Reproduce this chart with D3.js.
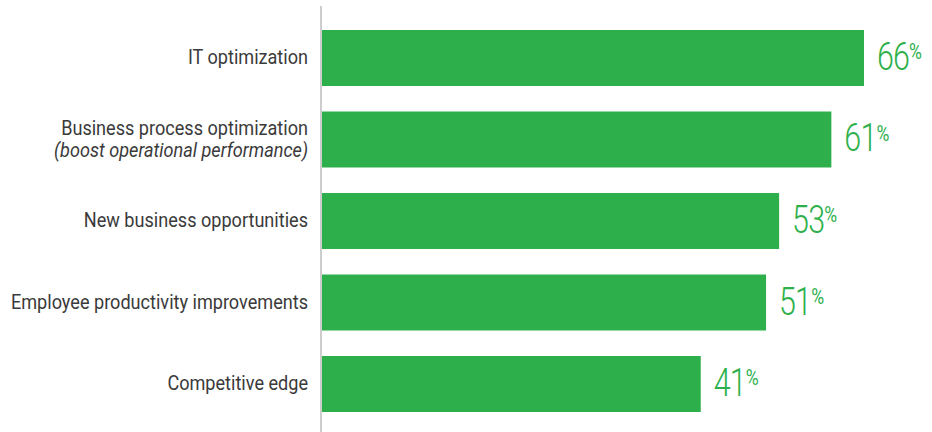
<html>
<head>
  <script src="https://cdn.jsdelivr.net/npm/d3@7"></script>
  <style>
    body { margin: 0; background: #fff; }
    * { font-family: 'Roboto', sans-serif; }
  </style>
</head>
<body>
  <svg id="chart" width="932" height="432"></svg>
  <script>
    // data
    var categories = ["IT optimization", "Business process optimization", "New business opportunities",
      "Employee productivity improvements", "Competitive edge"];
    var subtitles = ["", "(boost operational performance)", "", "", ""];
    var values = [66, 61, 53, 51, 41];

    var data = categories.map((c, i) => ({ cat: c, sub: subtitles[i], val: values[i] }));

    var svg = d3.select("#chart");

    var x = d3.scaleLinear().domain([-17, 66]).range([322, 864]);
    var y = d3.scaleBand().domain(categories).range([30, 412]).paddingInner(0.313).paddingOuter(0);

    // axis line
    svg.append("line")
      .attr("x1", 321).attr("x2", 321)
      .attr("y1", 6).attr("y2", 432)
      .style("stroke", "#bdbdbd")
      .style("stroke-width", "1.5px");

    svg.selectAll("rect.bar")
      .data(data)
      .enter()
      .append("rect")
      .attr("class", "bar")
      .attr("x", x(-17))
      .attr("y", d => y(d.cat))
      .attr("width", d => x(d.val) - x(-17))
      .attr("height", y.bandwidth())
      .style("fill", "#2db04b");

    // category labels (font squeezed a bit to look condensed)
    var lab = svg.selectAll("text.cat")
      .data(data)
      .enter()
      .append("text")
      .attr("class", "cat")
      .attr("text-anchor", "end")
      .attr("transform", d => "translate(308," + (y(d.cat) + y.bandwidth() / 2) + ") scale(0.905,1)")
      .style("font-size", "20px")
      .style("font-weight", 400)
      .style("fill", "#3a3a3a");

    lab.append("tspan")
      .attr("x", 0)
      .attr("y", d => d.sub ? -5 : 6)
      .text(d => d.cat);

    lab.filter(d => d.sub)
      .append("tspan")
      .attr("x", 0)
      .attr("dy", 22)
      .style("font-style", "italic")
      .text(d => d.sub);

    // value labels
    var vl = svg.selectAll("g.val")
      .data(data)
      .enter()
      .append("g")
      .attr("class", "val")
      .attr("transform", d => "translate(" + (x(d.val) + 13) + "," + (y(d.cat) + y.bandwidth() / 2 + 12) + ") scale(0.8,1)");

    vl.append("text")
      .style("font-size", "38px")
      .style("font-weight", 300)
      .style("fill", "#2db04b")
      .style("letter-spacing", "-1px")
      .text(d => d.val)
      .each(function (d) {
        var w = this.getComputedTextLength();
        d3.select(this.parentNode).append("text")
          .attr("x", w)
          .attr("y", -11)
          .style("font-size", "22px")
          .style("font-weight", 400)
          .style("fill", "#2db04b")
          .text("%");
      });
  </script>
</body>
</html>
